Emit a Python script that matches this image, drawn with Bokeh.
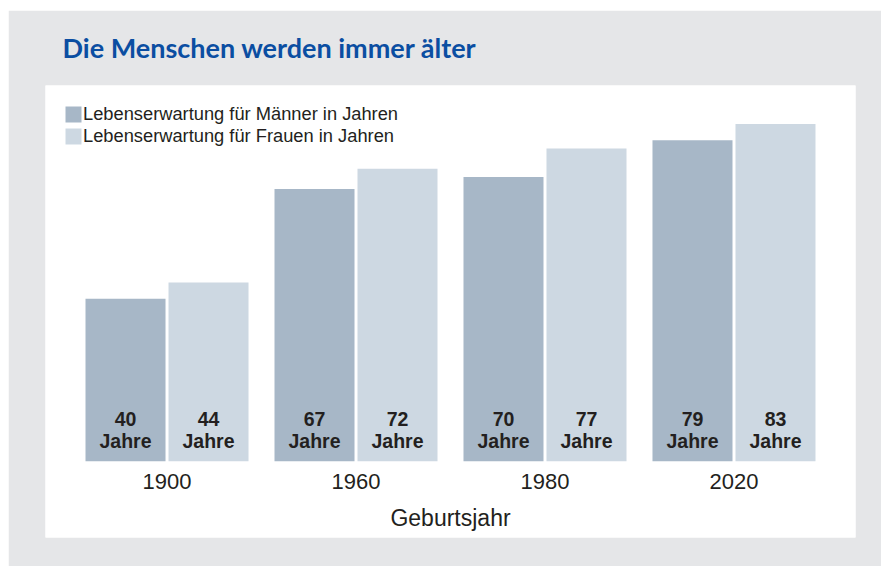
from bokeh.plotting import figure
from bokeh.models import ColumnDataSource, FactorRange, Range1d, Legend, LegendItem, Spacer
from bokeh.layouts import column, row
from bokeh.embed import file_html
from bokeh.resources import INLINE
from bokeh.core.properties import value

# ---- data ----
years = ["1900", "1960", "1980", "2020"]
men = [40, 67, 70, 79]
women = [44, 72, 77, 83]
unit_label = "Jahre"
series_labels = ["Lebenserwartung für Männer in Jahren",
                 "Lebenserwartung für Frauen in Jahren"]
title_text = "Die Menschen werden immer älter"
x_title = "Geburtsjahr"

# ---- style ----
MEN_COLOR = "#a7b7c7"
WOMEN_COLOR = "#cdd8e2"
BG = "#e5e6e8"
TEXT = "#231f20"
TITLE_COLOR = "#0b4ea2"
FONT = value("Liberation Sans")

GROUP_PAD = 0.277
RANGE_PAD = 0.464

factors = [(y, s) for y in years for s in ("M", "F")]
x_range = FactorRange(*factors, group_padding=GROUP_PAD, factor_padding=0.0,
                      range_padding=RANGE_PAD, range_padding_units="absolute")
y_range = Range1d(-18.77, 92.5)

p = figure(width=873, height=556, x_range=x_range, y_range=y_range,
           output_backend="svg", toolbar_location=None,
           x_axis_location=None, y_axis_location=None,
           min_border_left=37, min_border_right=26,
           min_border_top=75, min_border_bottom=29,
           background_fill_color="white", border_fill_color=BG,
           outline_line_color=None)
for g in p.grid:
    g.visible = False

src = ColumnDataSource(dict(
    x_m=[(y, "M") for y in years],
    x_f=[(y, "F") for y in years],
    men=men, women=women,
    men_txt=[str(v) for v in men],
    women_txt=[str(v) for v in women],
    unit=[unit_label] * len(years),
    year=years,
))

r_m = p.vbar(x="x_m", top="men", bottom=0, width=0.964, source=src,
             fill_color=MEN_COLOR, line_color=None)
r_f = p.vbar(x="x_f", top="women", bottom=0, width=0.964, source=src,
             fill_color=WOMEN_COLOR, line_color=None)

for xcol, tcol in (("x_m", "men_txt"), ("x_f", "women_txt")):
    p.text(x=xcol, y=0, text=tcol, source=src, y_offset=-42,
           text_align="center", text_baseline="middle", text_font=FONT,
           text_font_style="bold", text_font_size="19.5px", text_color=TEXT)
    p.text(x=xcol, y=0, text="unit", source=src, y_offset=-20.5,
           text_align="center", text_baseline="middle", text_font=FONT,
           text_font_style="bold", text_font_size="19.5px", text_color=TEXT)

p.text(x="year", y=0, text="year", source=src, y_offset=20,
       text_align="center", text_baseline="middle", text_font=FONT,
       text_font_size="22px", text_color=TEXT)

n_units = len(factors) + (len(years) - 1) * GROUP_PAD
p.text(x=[n_units / 2], y=[0], text=[x_title], y_offset=57,
       text_align="center", text_baseline="middle", text_font=FONT,
       text_font_size="23px", text_color=TEXT)

legend = Legend(items=[LegendItem(label=series_labels[0], renderers=[r_m]),
                       LegendItem(label=series_labels[1], renderers=[r_f])],
                location="top_left", margin=18, padding=0, spacing=0,
                glyph_width=20, glyph_height=20, label_height=20,
                label_standoff=0, label_text_font="Liberation Sans",
                label_text_font_size="18.3px", label_text_color=TEXT,
                border_line_color=None, background_fill_alpha=0)
p.add_layout(legend)

p.title.text = title_text
p.title.align = "left"
p.title.offset = 17
p.title.standoff = 40
p.title.vertical_align = "top"
p.title.text_font = "Lato"
p.title.text_font_style = "bold"
p.title.text_font_size = "27px"
p.title.text_color = TITLE_COLOR

layout = column(Spacer(width=881, height=10),
                row(Spacer(width=8, height=556), p))

open("out.html", "w").write(file_html(layout, INLINE))
